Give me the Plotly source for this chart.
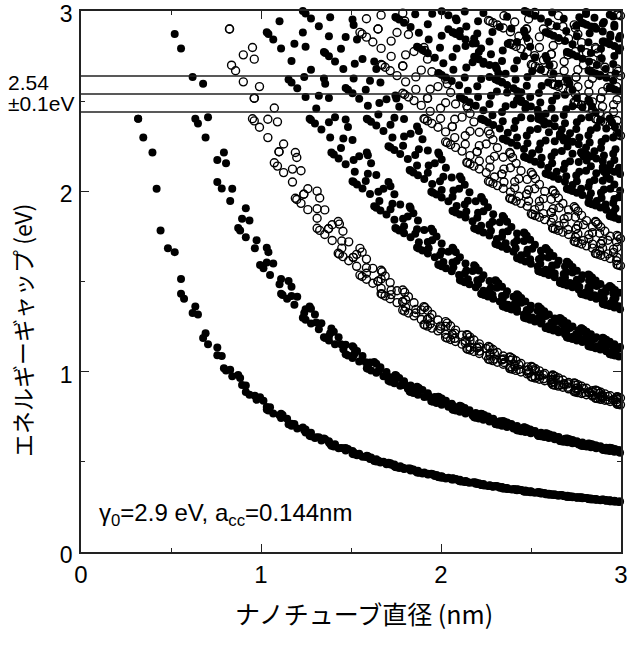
import numpy as np
import plotly.graph_objects as go

# ---- chart data / parameters (as printed on the chart) ----
GAMMA0 = 2.9          # eV, transfer integral
A_CC = 0.144          # nm, C-C bond length
D_MAX = 3.0           # nm, largest diameter shown
E_MAX = 3.0           # eV, largest gap shown
ref_levels = [2.44, 2.54, 2.64]   # 2.54 +/- 0.1 eV laser window
x_ticks = [0, 1, 2, 3]
y_ticks = [0, 1, 2, 3]
label_center = "2.54"
label_width = "±0.1eV"
x_title = "ナノチューブ直径 (nm)"
y_title = "エネルギーギャップ (eV)"
note = "γ<sub>0</sub>=2.9 eV, a<sub>cc</sub>=0.144nm"

# ---- tight-binding zone folding (Kataura plot) ----
A = np.sqrt(3) * A_CC
a1 = A * np.array([np.sqrt(3) / 2, 0.5])
a2 = A * np.array([np.sqrt(3) / 2, -0.5])
Kpt = np.array([0.0, 4 * np.pi / (3 * A)])
s = np.linspace(-3.6, 3.6, 3001)

semi_d, semi_e, met_d, met_e = [], [], [], []
for n in range(1, 45):
    for m in range(0, n + 1):
        Ch = n * a1 + m * a2
        L = np.linalg.norm(Ch)
        d = L / np.pi
        if d > D_MAX:
            continue
        c_hat = Ch / L
        t_hat = np.array([-c_hat[1], c_hat[0]])
        muK = Kpt.dot(Ch) / (2 * np.pi)
        kparK = Kpt.dot(t_hat)
        metallic = (n - m) % 3 == 0
        for mu in range(int(np.floor(muK - 2 * d)) - 1, int(np.ceil(muK + 2 * d)) + 2):
            kperp = 2 * np.pi * mu / L
            kx = kperp * c_hat[0] + (kparK + s) * t_hat[0]
            ky = kperp * c_hat[1] + (kparK + s) * t_hat[1]
            f = np.abs(1 + np.exp(1j * (kx * a1[0] + ky * a1[1]))
                       + np.exp(1j * (kx * a2[0] + ky * a2[1])))
            idx = np.where((f[1:-1] < f[:-2]) & (f[1:-1] <= f[2:]))[0] + 1
            for i in idx:
                E = 2 * GAMMA0 * f[i]
                if 0.05 < E <= E_MAX:
                    if metallic:
                        met_d.append(d); met_e.append(E)
                    else:
                        semi_d.append(d); semi_e.append(E)

fig = go.Figure()
fig.add_trace(go.Scatter(x=semi_d, y=semi_e, mode="markers", cliponaxis=False,
                         marker=dict(symbol="circle", size=8, color="black", line=dict(width=0)),
                         showlegend=False))
fig.add_trace(go.Scatter(x=met_d, y=met_e, mode="markers", cliponaxis=False,
                         marker=dict(symbol="circle-open", size=8, color="black", line=dict(width=1.4)),
                         showlegend=False))

for lv in ref_levels:
    fig.add_shape(type="line", xref="paper", yref="y", x0=0, x1=1, y0=lv, y1=lv,
                  line=dict(color="#222", width=1.5))

axis_common = dict(showgrid=False, zeroline=False, showline=True, linecolor="#222", linewidth=1.5,
                   mirror="ticks", ticks="inside", ticklen=8, tickwidth=1.3, tickcolor="#222",
                   automargin=False, ticklabeloverflow="allow",
                   minor=dict(dtick=0.5, ticks="inside", ticklen=4, tickwidth=1.3, tickcolor="#222"))
fig.update_xaxes(range=[0, 3], tickvals=x_ticks, ticklabelstandoff=0,
                 tickfont=dict(family="Liberation Sans, Arial, sans-serif", size=24, color="black"),
                 **axis_common)
fig.update_yaxes(range=[0, 3], tickvals=y_ticks, ticklabelstandoff=2, ticklabelshift=3,
                 tickfont=dict(family="Liberation Sans, Arial, sans-serif", size=23, color="black"),
                 **axis_common)

W, H = 628, 657
ml, mr, mt, mb = 81, 7, 11, 105
pw, ph = W - ml - mr, H - mt - mb
def px(xp): return (xp - ml) / pw
def py(yp): return (H - mb - yp) / ph

lab_font = dict(family="Liberation Sans, Arial, sans-serif", size=21, color="black")
fig.add_annotation(text=x_title, xref="paper", yref="paper", x=px(364), y=py(613),
                   xanchor="center", yanchor="middle", showarrow=False,
                   font=dict(family="Noto Sans CJK JP, sans-serif", size=25, color="black"))
fig.add_annotation(text=y_title, xref="paper", yref="paper", x=px(22), y=py(331),
                   xanchor="center", yanchor="middle", showarrow=False, textangle=-90,
                   font=dict(family="Noto Sans CJK JP, sans-serif", size=23, color="black"))
fig.add_annotation(text=label_center, xref="paper", yref="paper", x=px(6), y=py(82),
                   xanchor="left", yanchor="middle", showarrow=False, font=lab_font)
fig.add_annotation(text=label_width, xref="paper", yref="paper", x=px(6), y=py(104),
                   xanchor="left", yanchor="middle", showarrow=False, font=lab_font)
fig.add_annotation(text=note, xref="paper", yref="paper", x=px(97), y=py(514),
                   xanchor="left", yanchor="middle", showarrow=False,
                   font=dict(family="Liberation Sans, Arial, sans-serif", size=24, color="black"))

fig.update_layout(width=W, height=H, margin=dict(l=ml, r=mr, t=mt, b=mb, autoexpand=False),
                  paper_bgcolor="white", plot_bgcolor="white")
fig.write_html("out.html")
